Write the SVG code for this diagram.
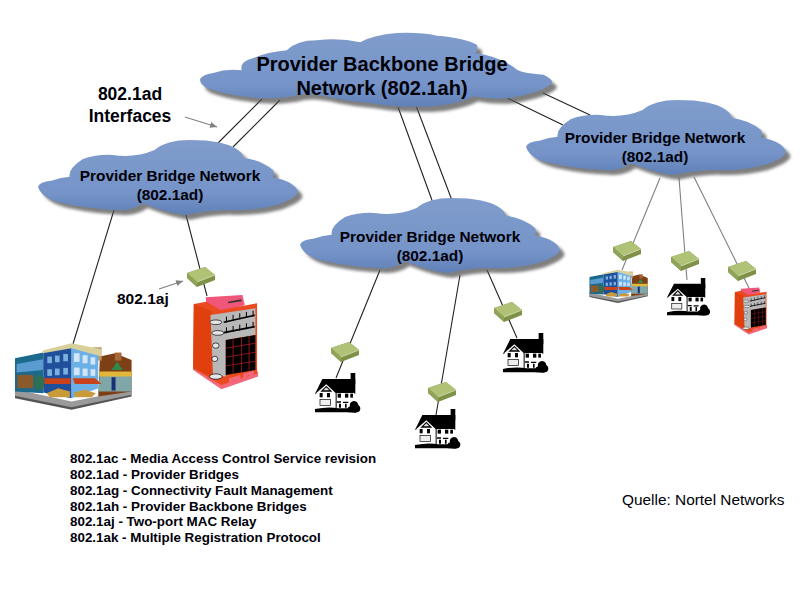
<svg xmlns="http://www.w3.org/2000/svg" width="800" height="600" viewBox="0 0 800 600">
<style>
text{font-family:"Liberation Sans",Arial,sans-serif;fill:#000008}
.b{font-weight:bold}
.m{text-anchor:middle}
.cl{font-size:15.4px;font-weight:bold;text-anchor:middle}
.leg{font-size:13.4px;font-weight:bold}
.k{stroke:#222;stroke-width:1.1;fill:none}
.g{stroke:#808080;stroke-width:1.1;fill:none}
.ar{stroke:#808080;stroke-width:1.2;fill:none;marker-end:url(#ah)}
</style>
<defs>
<marker id="ah" markerWidth="8" markerHeight="8" refX="7" refY="3" orient="auto" markerUnits="userSpaceOnUse"><path d="M0,0L7,3L0,6Z" fill="#808080"/></marker>
<linearGradient id="cg" x1="0" y1="0" x2="0" y2="1"><stop offset="0" stop-color="#7f9ccc"/><stop offset=".7" stop-color="#7694c8"/><stop offset="1" stop-color="#5f80b8"/></linearGradient>
<filter id="bl" x="-5%" y="-10%" width="110%" height="125%"><feGaussianBlur stdDeviation="5"/></filter>
<path id="cp" d="M0,140Q5,125 40,120Q80,106 125,112Q118,85 160,75Q200,58 260,52Q290,22 350,22Q420,14 480,28Q520,5 590,0Q660,-3 710,8Q790,14 830,35Q835,50 825,60Q900,70 950,110Q965,120 1030,125Q1060,140 1055,150Q1035,175 930,195Q870,200 820,190Q780,210 720,218Q620,228 510,210Q450,205 400,195Q340,180 300,185Q240,200 170,195Q70,185 20,165Q0,155 0,140Z"/>
<path id="cs" d="M0,140Q5,125 40,122Q70,112 95,110Q90,85 135,57Q180,42 225,45Q290,55 350,30Q385,0 455,0Q560,0 600,30Q620,45 615,53Q670,60 705,90Q710,100 705,112Q770,125 780,155Q775,175 715,195Q640,215 560,210Q500,212 445,225Q395,222 315,190Q280,215 235,210Q160,208 75,190Q10,175 0,140Z"/>
<g id="cloud"><use href="#cp" transform="translate(14,16)" fill="#555" opacity=".75" filter="url(#bl)"/><use href="#cp" fill="url(#cg)"/></g>
<g id="scloud"><use href="#cs" transform="translate(14,14)" fill="#555" opacity=".75" filter="url(#bl)"/><use href="#cs" fill="url(#cg)"/></g>
<g id="sw">
<path d="M0,6L18,0L28,8V13L10,20L0,11Z" fill="#7f9149"/>
<path d="M0,6L18,0L28,8L10,15Z" fill="#afc276"/>
<path d="M0,6L10,15V20L0,11Z" fill="#8fa35a"/>
<path d="M10,15L28,8" stroke="#dfe6c2" stroke-width=".7"/>
</g>
<g id="house" transform="scale(.333)">
<rect x="107" y="0" width="14" height="34" fill="#000"/>
<path d="M22,18H121V62H0Z" fill="#000"/>
<path d="M4,60L34,34L62,60V106H4Z" fill="#fff"/>
<path d="M34,38L16,56H52Z" fill="#000"/><path d="M34,43L25,52H43Z" fill="#ddd"/>
<rect x="62" y="60" width="56" height="38" fill="#fff"/>
<rect x="14" y="60" width="9" height="13" fill="#000"/><rect x="36" y="60" width="9" height="13" fill="#000"/>
<rect x="15" y="80" width="32" height="18" fill="#eee" stroke="#000" stroke-width="2"/>
<rect x="68" y="62" width="10" height="12" fill="#000"/><rect x="90" y="62" width="10" height="12" fill="#000"/><rect x="106" y="62" width="8" height="12" fill="#000"/>
<rect x="62" y="60" width="3" height="45" fill="#000"/>
<path d="M66,85h12v4h-12zM84,86h16v4h-16zM72,92h6v12h-6zM90,92h5v12h-5z" fill="#000"/>
<path d="M0,108Q40,100 70,106H102L105,118H0Z" fill="#000"/>
<path d="M100,118Q92,105 105,100Q102,88 116,84Q128,84 130,96Q140,104 134,114Q128,122 100,118Z" fill="#000"/>
</g>
<g id="shop" transform="scale(.333)">
<path d="M45,392L215,432L395,395V410L215,450L45,415Z" fill="#555"/>
<path d="M45,388L215,425L395,390V405L215,442L45,408Z" fill="#9a9a9a"/>
<path d="M300,290L345,280L395,300V395L295,410Z" fill="#7d3f16"/>
<rect x="345" y="278" width="20" height="24" fill="#a9683a"/>
<rect x="280" y="262" width="25" height="40" fill="#b89a6a"/>
<path d="M300,340H395V395H295Z" fill="#7fa7a7"/>
<path d="M298,335H395V350H298Z" fill="#e3b73a"/>
<path d="M335,330L352,305L368,330Z" fill="#2f8a4a"/>
<rect x="335" y="352" width="12" height="40" fill="#1a2f7a"/>
<path d="M45,295L130,278V400L45,395Z" fill="#1b6a8c"/>
<path d="M50,312L130,298V330L50,338Z" fill="#5a9bd0"/>
<path d="M52,345H100V385H52Z" fill="#8a5a2a"/>
<path d="M130,275L215,262V415L130,398Z" fill="#1f4f9a"/>
<path d="M215,262L295,285V385L215,415Z" fill="#6cb0e8"/>
<path d="M128,272L215,250L305,268V290L215,265L128,280Z" fill="#d8cf9a"/>
<g fill="#7ab0dc"><rect x="142" y="290" width="14" height="20"/><rect x="165" y="287" width="14" height="20"/><rect x="190" y="282" width="14" height="22"/><rect x="142" y="328" width="14" height="20"/><rect x="165" y="326" width="14" height="20"/><rect x="190" y="324" width="14" height="20"/></g>
<g fill="#d3e6f6"><rect x="222" y="280" width="17" height="26"/><rect x="248" y="286" width="15" height="24"/><rect x="272" y="292" width="14" height="22"/><rect x="222" y="323" width="17" height="23"/><rect x="248" y="326" width="15" height="22"/><rect x="272" y="328" width="14" height="20"/></g>
<path d="M125,355H212V372H135ZM218,355L285,355L305,372H225Z" fill="#c9421a"/>
<ellipse cx="118" cy="368" rx="16" ry="22" fill="#2f6f55"/>
<path d="M140,400L175,385L210,395V412L150,412ZM222,398L255,390L288,400L275,412H225Z" fill="#c99a3a"/>
</g>
<g id="tower" transform="scale(.333)">
<path d="M580,330L665,388L775,350V335L665,372L580,318Z" fill="#f2687a"/>
<path d="M618,112L728,105L735,135L660,160L620,135Z" fill="#f0557a"/>
<path d="M685,125L725,118V124L685,130Z" fill="#333"/>
<path d="M582,132L620,125L662,150L772,130V340L665,375L580,325Z" fill="#ea4a20"/>
<path d="M582,132L635,155V350L580,325Z" fill="#e0400e"/>
<path d="M632,165L767,145V225L678,240V350L640,345Z" fill="#b8b8b8"/>
<path d="M678,240L767,225V330L678,345Z" fill="#000"/>
<path d="M700,238V342M725,232V337M748,228V332M678,265L767,250M678,292L767,277M678,318L767,304" stroke="#b8202a" stroke-width="2.2"/>
<path d="M672,187L765,166M672,218L765,200" stroke="#000" stroke-width="5"/>
<path d="M680,170v18M700,165v18M720,160v18M740,156v18M760,152v18M680,202v18M700,198v18M720,194v18M740,190v18M760,186v18" stroke="#000" stroke-width="3"/>
<g fill="#e6e6e6" stroke="#000" stroke-width="2"><ellipse cx="648" cy="187" rx="18" ry="7"/><ellipse cx="654" cy="219" rx="18" ry="7"/><ellipse cx="648" cy="257" rx="10" ry="8"/><ellipse cx="645" cy="297" rx="9" ry="8"/><ellipse cx="648" cy="350" rx="19" ry="8"/></g>
<path d="M688,355L722,345V368L705,360L688,372ZM730,342L762,332V352L745,345L730,358Z" fill="#f2687a"/>
</g>
</defs>
<rect width="800" height="600" fill="#fff"/>
<g id="connectors">
<path class="k" d="M262,99L215,146M280,100L233,147M398,107L433,203M415,103L453,203M543,93L590,115M507,98L563,125M114,210L73,344M186,215L207,296M380,270L336,378M460,275L436,415M487,270L517,338"/>
<path class="g" d="M660,178L622,270M679,178L687,280M694,177L750,290"/>
<path class="ar" d="M185,117L217,127"/>
<path class="ar" d="M159,289L183,281"/>
</g>
<g id="cloud-backbone"><use href="#cloud" transform="translate(200,33) scale(.3336,.333)"/>
<text class="b m" font-size="20" x="382" y="71">Provider Backbone Bridge</text><text class="b m" font-size="20" x="382" y="95">Network (802.1ah)</text></g>
<g id="cloud-left"><use href="#scloud" transform="translate(38,140) scale(.3333)"/>
<text class="cl" x="170" y="181">Provider Bridge Network</text><text class="cl" x="170" y="200">(802.1ad)</text></g>
<g id="cloud-middle"><use href="#scloud" transform="translate(300,198) scale(.3333)"/>
<text class="cl" x="430" y="242">Provider Bridge Network</text><text class="cl" x="430" y="261">(802.1ad)</text></g>
<g id="cloud-right"><use href="#scloud" transform="translate(526,100) scale(.3333)"/>
<text class="cl" x="655" y="143">Provider Bridge Network</text><text class="cl" x="655" y="162">(802.1ad)</text></g>
<g id="label-interfaces"><text class="b m" font-size="17.5" x="130" y="100">802.1ad</text><text class="b m" font-size="17.5" x="130" y="122">Interfaces</text></g>
<g id="label-aj"><text class="b" font-size="15.5" x="117" y="304">802.1aj</text></g>
<g id="shop-left"><use href="#shop" transform="translate(0,260)"/></g>
<g id="tower-left"><use href="#tower" transform="translate(0,260)"/></g>
<g id="switch-left"><use href="#sw" transform="translate(187,267)"/></g>
<g id="switch-m1"><use href="#sw" transform="translate(331,342)"/></g>
<g id="switch-m2"><use href="#sw" transform="translate(428,382)"/></g>
<g id="switch-m3"><use href="#sw" transform="translate(494,302)"/></g>
<g id="house-m1"><use href="#house" transform="translate(315,373)"/></g>
<g id="house-m2"><use href="#house" transform="translate(415,409)"/></g>
<g id="house-m3"><use href="#house" transform="translate(503,333)"/></g>
<g id="switch-r1"><use href="#sw" transform="translate(613,241)"/></g>
<g id="switch-r2"><use href="#sw" transform="translate(671,251)"/></g>
<g id="switch-r3"><use href="#sw" transform="translate(728,261)"/></g>
<g id="shop-right"><use href="#shop" transform="translate(582,228) scale(.5)"/></g>
<g id="house-right"><use href="#house" transform="translate(667,278) scale(.95)"/></g>
<g id="tower-right"><use href="#tower" transform="translate(638,270) scale(.5)"/></g>
<g id="legend">
<text class="leg" x="70" y="463">802.1ac - Media Access Control Service revision</text>
<text class="leg" x="70" y="479">802.1ad - Provider Bridges</text>
<text class="leg" x="70" y="495">802.1ag - Connectivity Fault Management</text>
<text class="leg" x="70" y="511">802.1ah - Provider Backbone Bridges</text>
<text class="leg" x="70" y="526">802.1aj - Two-port MAC Relay</text>
<text class="leg" x="70" y="542">802.1ak - Multiple Registration Protocol</text>
</g>
<g id="source"><text font-size="15.4" x="622" y="505">Quelle: Nortel Networks</text></g>
</svg>
